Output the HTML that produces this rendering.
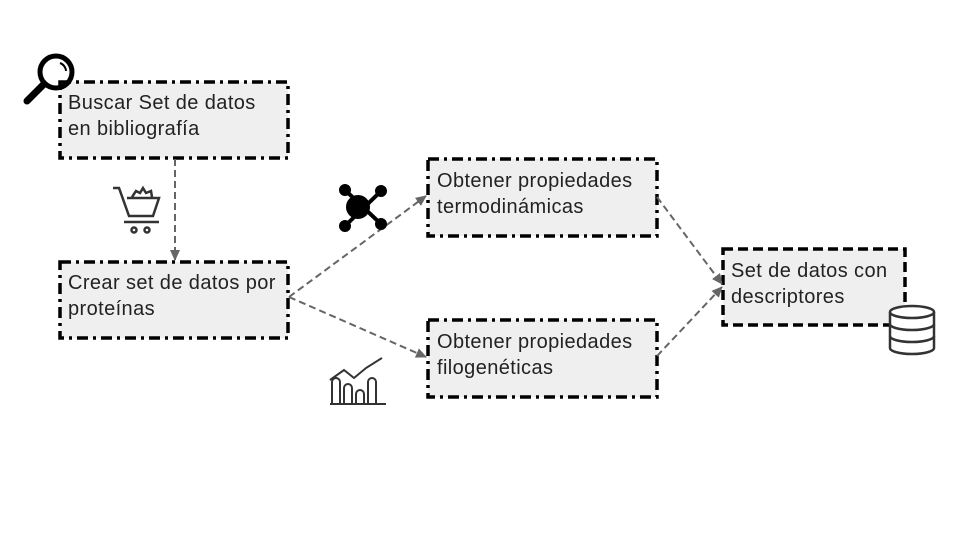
<!DOCTYPE html>
<html><head><meta charset="utf-8"><style>
body{margin:0;background:#fff;width:960px;height:540px;overflow:hidden}
svg{position:absolute;left:0;top:0}
.t{position:absolute;font-family:"Liberation Sans",sans-serif;font-size:20px;line-height:26px;color:#222;letter-spacing:0.4px}
</style></head><body>
<svg width="960" height="540" viewBox="0 0 960 540">
<defs><marker id="a" markerWidth="11" markerHeight="10" refX="10" refY="5" orient="auto" markerUnits="userSpaceOnUse"><path d="M0,0 L11,5 L0,10 Z" fill="#666"/></marker></defs>
<g fill="#efefef" stroke="#000" stroke-width="3.5" stroke-dasharray="11,5,3,5">
<rect x="60" y="82" width="228" height="76"/>
<rect x="60" y="262" width="228" height="76"/>
<rect x="428" y="159" width="229" height="77"/>
<rect x="428" y="320" width="229" height="77"/>
</g>
<rect x="723" y="249" width="182" height="76" fill="#efefef" stroke="#000" stroke-width="3.5" stroke-dasharray="10,5"/>
<g stroke="#666" stroke-width="2" stroke-dasharray="7,4" fill="none" marker-end="url(#a)">
<line x1="175" y1="159" x2="175" y2="260"/>
<line x1="289" y1="297" x2="426" y2="196"/>
<line x1="289" y1="297" x2="426" y2="357"/>
<line x1="657" y1="197" x2="722" y2="284"/>
<line x1="657" y1="356" x2="722" y2="287"/>
</g>
<circle cx="56" cy="72" r="16" fill="none" stroke="#000" stroke-width="5"/>
<path d="M60,63 a9,9 0 0 1 6,8" stroke="#000" stroke-width="2" fill="none"/>
<line x1="44" y1="84" x2="27" y2="101" stroke="#000" stroke-width="7" stroke-linecap="round"/>
<g stroke="#333" stroke-width="2.5" fill="none">
<path d="M113,188 h6 l10,28 h24 l6,-18 h-32"/>
<path d="M124,222 h35"/>
<circle cx="134" cy="230" r="2.5"/><circle cx="147" cy="230" r="2.5"/>
<path d="M132,197 l4,-6 l4,2 l3,-5 l3,5 l5,-2 l1,6"/>
</g>
<g stroke="#000" stroke-width="4" fill="#000">
<line x1="345" y1="190" x2="381" y2="224"/><line x1="345" y1="226" x2="381" y2="191"/>
<circle cx="358" cy="207" r="10"/>
<circle cx="345" cy="190" r="4"/><circle cx="381" cy="191" r="4"/>
<circle cx="345" cy="226" r="4"/><circle cx="381" cy="224" r="4"/>
</g>
<g stroke="#333" stroke-width="2" fill="none">
<path d="M332,404 v-22 a4,4 0 0 1 8,0 v22 M344,404 v-16 a4,4 0 0 1 8,0 v16 M356,404 v-10 a4,4 0 0 1 8,0 v10 M368,404 v-22 a4,4 0 0 1 8,0 v22"/>
<path d="M330,380 l14,-10 l10,8 l12,-10 l16,-10"/>
<line x1="330" y1="404" x2="386" y2="404"/>
</g>
<g stroke="#333" stroke-width="2.5" fill="#fff">
<path d="M890,312 v36 a22,6 0 0 0 44,0 v-36"/>
<ellipse cx="912" cy="312" rx="22" ry="6"/>
<path d="M890,324 a22,6 0 0 0 44,0 M890,336 a22,6 0 0 0 44,0" fill="none"/>
</g>
</svg>
<div class="t" style="left:68px;top:90px">Buscar Set de datos<br>en bibliografía</div>
<div class="t" style="left:68px;top:270px">Crear set de datos por<br>proteínas</div>
<div class="t" style="left:437px;top:168px">Obtener propiedades<br>termodinámicas</div>
<div class="t" style="left:437px;top:329px">Obtener propiedades<br>filogenéticas</div>
<div class="t" style="left:731px;top:258px">Set de datos con<br>descriptores</div>
</body></html>
